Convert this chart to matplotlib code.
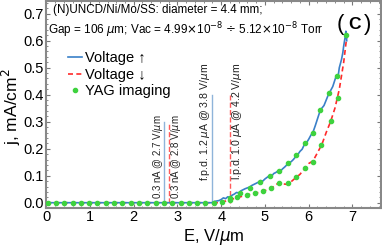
import matplotlib
matplotlib.use("Agg")
import matplotlib.pyplot as plt
from matplotlib.ticker import MultipleLocator

plt.rcParams['font.family'] = ['Liberation Sans', 'DejaVu Sans']

# voltage up sweep (blue, solid)
e_up = [0.0, 1.0, 2.0, 3.0, 3.78, 3.85, 3.95, 4.0, 4.05, 4.1, 4.15, 4.2, 4.25, 4.3,
        4.35, 4.4, 4.45, 4.5, 4.55, 4.6, 4.65, 4.7, 4.75, 4.8, 4.85, 4.9, 4.95,
        5.0, 5.05, 5.1, 5.15, 5.2, 5.25, 5.3, 5.35, 5.4, 5.45, 5.5, 5.55, 5.6,
        5.65, 5.7, 5.75, 5.8, 5.85, 5.9, 5.95, 6.0, 6.05, 6.1, 6.15, 6.2, 6.25,
        6.3, 6.35, 6.4, 6.45, 6.5, 6.55, 6.6, 6.63, 6.67, 6.7, 6.75, 6.78, 6.8,
        6.83, 6.85, 6.87]
j_up = [0.0, 0.0, 0.0, 0.0, 0.0, 0.005, 0.008, 0.012, 0.018, 0.015, 0.022, 0.02,
        0.028, 0.032, 0.038, 0.036, 0.044, 0.048, 0.052, 0.055, 0.058, 0.064,
        0.068, 0.072, 0.076, 0.082, 0.08, 0.088, 0.094, 0.1, 0.098, 0.108, 0.112,
        0.118, 0.116, 0.125, 0.132, 0.14, 0.148, 0.152, 0.16, 0.17, 0.178, 0.19,
        0.198, 0.215, 0.222, 0.235, 0.25, 0.262, 0.285, 0.31, 0.335, 0.35, 0.36,
        0.38, 0.4, 0.415, 0.43, 0.455, 0.47, 0.465, 0.5, 0.53, 0.555, 0.58, 0.61,
        0.635, 0.6]

# voltage down sweep (red, dashed)
e_down = [0.0, 1.0, 2.0, 3.0, 3.9, 4.0, 4.1, 4.2, 4.3, 4.4, 4.5, 4.6, 4.7, 4.8,
          4.9, 5.0, 5.1, 5.2, 5.3, 5.35, 5.4, 5.5, 5.6, 5.7, 5.8, 5.9, 6.0, 6.1,
          6.2, 6.3, 6.4, 6.5, 6.6, 6.65, 6.7, 6.75, 6.8, 6.83, 6.86, 6.88]
j_down = [0.0, 0.0, 0.0, 0.0, 0.0, 0.003, 0.006, 0.01, 0.016, 0.02, 0.025, 0.029,
          0.033, 0.036, 0.04, 0.045, 0.05, 0.06, 0.072, 0.075, 0.07, 0.068, 0.078,
          0.092, 0.105, 0.125, 0.145, 0.155, 0.185, 0.215, 0.26, 0.3, 0.35, 0.385,
          0.42, 0.47, 0.52, 0.56, 0.6, 0.62]

# YAG imaging points
e_yag = [0.03, 0.22, 0.41, 0.6, 0.79, 0.98, 1.17, 1.36, 1.55, 1.74, 1.93, 2.12,
         2.31, 2.5, 2.69, 2.88, 3.07, 3.26, 3.45, 3.64, 3.83,
         4.19, 4.43, 4.66, 4.89, 5.12, 5.32, 5.53, 5.72, 5.91, 6.1, 6.27, 6.46,
         6.65, 6.86,
         4.01, 4.2, 4.37, 4.58, 4.77, 4.96, 5.14, 5.33, 5.53, 5.72, 5.91, 6.1,
         6.29, 6.5, 6.66]
j_yag = [0.0] * 21 + [
         0.016, 0.035, 0.055, 0.075, 0.1, 0.117, 0.146, 0.175, 0.222, 0.26,
         0.343, 0.408, 0.468, 0.62,
         0.004, 0.01, 0.022, 0.029, 0.037, 0.042, 0.055, 0.072, 0.072, 0.094,
         0.127, 0.152, 0.212, 0.303, 0.388]

# marker lines: (E, top, colour, style, label, label E, label centre j, size)
markers = [
    (2.7, 0.30, '#8fb4da', '-', '0.3 nA @ 2.7 V/$\\mu$m', 2.56, 0.172, 7),
    (2.8, 0.30, '#ff5a5a', '--', '0.3 nA @ 2.8 V/$\\mu$m', 2.97, 0.172, 7),
    (3.8, 0.40, '#8fb4da', '-', 'f.p.d. 1.2 $\\mu$A @ 3.8 V/$\\mu$m', 3.64, 0.30, 7.6),
    (4.2, 0.40, '#ff5a5a', '--', 'l.p.d. 1.0 $\\mu$A @ 4.2 V/$\\mu$m', 4.36, 0.30, 7.6),
]

fig = plt.figure(figsize=(3.82, 2.48), dpi=100)
ax = fig.add_axes([0.12, 0.163, 0.877, 0.833])

for e, top, c, ls, txt, tx, ty, fs in markers:
    ax.plot([e, e], [0, top], color=c, ls=ls, lw=1.0)
    ax.text(tx, ty, txt, rotation=90, ha='center', va='center', fontsize=fs,
            color='#222222')

ax.plot(e_down, j_down, color='#ff2a2a', ls='--', lw=1.2, dashes=(3, 2),
        label='Voltage \u2193')
ax.plot(e_up, j_up, color='#3a80c8', lw=1.2, label='Voltage \u2191')
ax.plot(e_yag, j_yag, ls='none', marker='o', ms=3.0, color='#3ed23e',
        label='YAG imaging', zorder=5)

ax.set_xlim(-0.01, 7.65)
ax.set_ylim(-0.018, 0.747)
ax.xaxis.set_major_locator(MultipleLocator(1))
ax.xaxis.set_minor_locator(MultipleLocator(0.2))
ax.yaxis.set_major_locator(MultipleLocator(0.1))
ax.yaxis.set_minor_locator(MultipleLocator(0.02))
ax.yaxis.set_major_formatter(matplotlib.ticker.FormatStrFormatter('%.1f'))
ax.tick_params(which='both', direction='in', labelsize=10.5, pad=1.5,
               top=True, right=True, color='#777777')
ax.tick_params(which='major', length=3)
ax.tick_params(which='minor', length=1.5)
for s in ax.spines.values():
    s.set_color('#888888')
    s.set_linewidth(1.5)

ax.set_xlabel('E, V/$\\mu$m', fontsize=12, labelpad=2.5)
fig.text(11.5 / 382, 0.569, 'j, mA/cm$^2$', fontsize=12.5, rotation=90,
         ha='center', va='center')

ax.text(0.02, 0.985, '(N)UNCD/Ni/Mo/SS: diameter = 4.4 mm;', transform=ax.transAxes,
        fontsize=8.4, va='top', ha='left')
ax.text(0.005, 0.905,
        'Gap = 106 $\\mu$m; Vac = 4.99$\\times$10$^{-8}$ $\\div$ 5.12$\\times$10$^{-8}$ Torr',
        transform=ax.transAxes, fontsize=8.5, va='top', ha='left')
ax.text(0.879, 0.884, '(', transform=ax.transAxes, fontsize=16,
        ha='center', va='center')
ax.text(0.921, 0.884, 'C', transform=ax.transAxes, fontsize=12.5,
        fontweight='bold', ha='center', va='center')
ax.text(0.962, 0.884, ')', transform=ax.transAxes, fontsize=16,
        ha='center', va='center')

h, l = ax.get_legend_handles_labels()
ax.legend([h[1], h[0], h[2]], [l[1], l[0], l[2]], loc='upper left',
          bbox_to_anchor=(0.035, 0.805), frameon=False, fontsize=10.5,
          handlelength=1.0, handletextpad=0.2, labelspacing=0.15,
          borderaxespad=0.3)

fig.savefig('out.png', dpi=100)
